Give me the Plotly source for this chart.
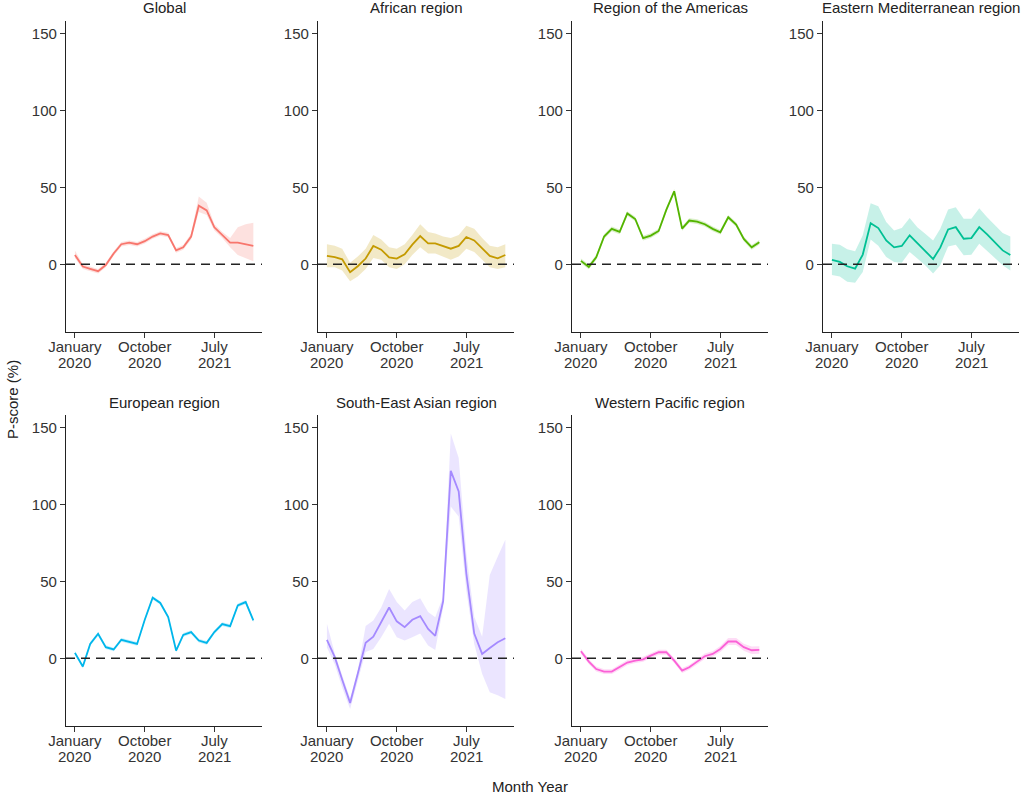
import pandas as pd
import plotly.graph_objects as go

months = [d.strftime("%Y-%m-01") for d in pd.date_range("2020-01-01", "2021-12-01", freq="MS")]

regions = ["Global", "African region", "Region of the Americas", "Eastern Mediterranean region",
           "European region", "South-East Asian region", "Western Pacific region"]
colors = ["#F8766D", "#C49A00", "#53B400", "#00C094", "#00B6EB", "#A58AFF", "#FB61D7"]

global_val = [6, -1.5, -3, -4.5, -0.5, 7, 13, 14, 13, 15, 18, 20, 19, 9, 11, 18, 38, 35, 24, 19, 14, 14, 13, 12]
global_lo = [4, -3, -4.5, -6, -2, 5.5, 11.5, 12.5, 11.5, 13.5, 16.5, 18.5, 17.5, 7.5, 9.5, 16, 34, 32, 22, 17, 11, 6, 4, 2]
global_hi = [9, 0, -1.5, -3, 1, 8.5, 14.5, 15.5, 14.5, 16.5, 19.5, 21.5, 20.5, 10.5, 12.5, 20, 44, 40, 26, 21, 17, 24, 26, 27]

af_val = [5.4, 4.7, 3.2, -5.2, -1.3, 3.7, 11.9, 9.5, 4.5, 3.7, 6.5, 12.7, 18.3, 13.6, 13.6, 11.6, 10.1, 11.9, 17.7, 15.5, 10.1, 5.4, 3.9, 6.0]
af_lo = [-2, -2, -4, -11, -8, -3, 4, 3, -2, -3, 0, 6, 11, 7, 7, 5, 3, 5, 10, 8, 3, -2, -3, -2]
af_hi = [13, 12, 10, 1, 5, 10, 19, 16, 11, 10, 13, 19, 26, 21, 20, 18, 17, 19, 25, 23, 17, 12, 11, 13]

am_val = [2.2, -1.7, 4.5, 18, 23, 21, 33, 29.4, 17, 18.6, 21.6, 35.3, 47.4, 23.2, 28.4, 27.7, 26, 23, 20.8, 30.5, 25.8, 16.5, 11, 14.3]
am_lo = [0.7, -3.2, 3, 16.5, 21.5, 19.5, 31.5, 27.9, 15.5, 17.1, 20.1, 33.8, 45.9, 21.7, 26.9, 26.2, 24.5, 21.5, 19.3, 29, 24.3, 15, 9.5, 12.8]
am_hi = [3.7, -0.2, 6, 19.5, 24.5, 22.5, 34.5, 30.9, 18.5, 20.1, 23.1, 36.8, 48.9, 24.7, 29.9, 29.2, 27.5, 24.5, 22.3, 32, 27.3, 18, 12.5, 15.8]

em_val = [2.8, 1.5, -1.3, -2.8, 6.3, 26.7, 23.5, 15.5, 11, 11.9, 18.8, 14, 8.6, 3.4, 10.8, 22.6, 24.1, 16.6, 17, 24.1, 19.4, 14, 9, 6]
em_lo = [-7, -8, -11.4, -12, -5, 16, 12, 4.7, 1.5, 1, 8, 3.7, -0.6, -6, -0.6, 11.6, 12.7, 5.8, 6.2, 13.4, 9, 4, -0.6, -4]
em_hi = [13.4, 12.7, 9.7, 8.4, 18.8, 39.7, 37.7, 27.4, 22, 23.5, 30, 24, 19.8, 15.5, 23, 35.6, 37, 29.5, 29.5, 36.4, 30.6, 25.2, 20.3, 18]

eu_val = [3.5, -5.4, 9.3, 15.9, 7.2, 5.7, 12, 10.9, 9.3, 25, 39.3, 35.9, 26.7, 5, 15.2, 17, 11.5, 10, 17, 22.2, 20.9, 34.3, 36.5, 24.6]
eu_lo = [2.3, -6.6, 8.1, 14.7, 6, 4.5, 10.8, 9.7, 8.1, 23.8, 38.1, 34.7, 25.5, 3.8, 14, 15.8, 10.3, 8.8, 15.8, 21, 19.7, 33.1, 35.3, 23.4]
eu_hi = [4.7, -4.2, 10.5, 17.1, 8.4, 6.9, 13.2, 12.1, 10.5, 26.2, 40.5, 37.1, 27.9, 6.2, 16.4, 18.2, 12.7, 11.2, 18.2, 23.4, 22.1, 35.5, 37.7, 25.8]

sea_val = [12, 0.7, -14, -29, -10, 10, 14, 23.5, 33, 24, 20.2, 25, 27.4, 19, 14.6, 37, 121.7, 108.3, 55, 16, 2.8, 6.7, 10.4, 13]
sea_lo = [7, -4, -19, -33, -14.6, 4, 6, 13.7, 22.4, 13.7, 11.5, 13.7, 16, 8.3, 5.4, 33, 98.5, 92, 44, 9.3, -10, -22, -24, -26.5]
sea_hi = [22.4, 3, -11, -26, -8, 21, 24.6, 33, 45, 36.5, 31, 36.5, 39, 30, 26.7, 40, 146, 130, 68, 27, 14, 54, 66, 77]

wp_val = [4.6, -2.2, -7, -8.7, -8.7, -5.9, -2.8, -1.5, -0.7, 1.7, 3.9, 3.9, -1.5, -8, -5.9, -2.2, 1.3, 2.8, 6, 10.9, 10.9, 7.2, 5.2, 5.4]
wp_lo = [3, -3.8, -8.6, -10.3, -10.3, -7.5, -4.4, -3.1, -2.3, 0.1, 2.3, 2.3, -3.1, -9.6, -7.5, -3.8, -0.5, 1, 4, 8.6, 8.6, 4.9, 2.8, 3]
wp_hi = [6.2, -0.6, -5.4, -7.1, -7.1, -4.3, -1.2, 0.1, 0.9, 3.3, 5.5, 5.5, 0.1, -6.4, -4.3, -0.6, 3.1, 4.6, 8, 13.2, 13.2, 9.5, 7.6, 7.8]

values = [global_val, af_val, am_val, em_val, eu_val, sea_val, wp_val]
lows = [global_lo, af_lo, am_lo, em_lo, eu_lo, sea_lo, wp_lo]
highs = [global_hi, af_hi, am_hi, em_hi, eu_hi, sea_hi, wp_hi]

x_tickvals = ["2020-01-01", "2020-10-01", "2021-07-01"]
x_tick_month = ["January", "October", "July"]
x_tick_year = ["2020", "2020", "2021"]
y_tickvals = [0, 50, 100, 150]

W, H = 1024, 794
col_left = [66, 318, 572, 823]
panel_w = 196
row_top = [21, 415]
panel_h = 311

def hex_rgba(h, a):
    h = h.lstrip("#")
    return "rgba(%d,%d,%d,%.2f)" % (int(h[0:2], 16), int(h[2:4], 16), int(h[4:6], 16), a)

FONT = "Liberation Sans, Arial, Helvetica, sans-serif"
FS = 15
fig = go.Figure()
shapes = []
annotations = []
layout = {}

for k in range(7):
    r, c = divmod(k, 4)
    ax = "" if k == 0 else str(k + 1)
    xr, yr = "x" + ax, "y" + ax
    x0 = col_left[c] / W
    x1 = (col_left[c] + panel_w) / W
    y1 = 1 - row_top[r] / H
    y0 = 1 - (row_top[r] + panel_h) / H
    col = colors[k]
    fig.add_trace(go.Scatter(
        x=months + months[::-1], y=highs[k] + lows[k][::-1],
        fill="toself", fillcolor=hex_rgba(col, 0.22), line=dict(width=0),
        hoverinfo="skip", showlegend=False, xaxis=xr, yaxis=yr))
    fig.add_trace(go.Scatter(
        x=months, y=values[k], mode="lines", line=dict(color=col, width=1.8),
        showlegend=False, xaxis=xr, yaxis=yr))
    layout["xaxis" + ax] = dict(
        domain=[x0, x1], anchor=yr, type="date", automargin=False,
        range=["2019-11-27", "2022-01-04"],
        tickmode="array", tickvals=x_tickvals, ticktext=x_tick_month,
        ticks="outside", ticklen=5, tickwidth=1.2, tickcolor="#333",
        ticklabelstandoff=-4,
        showline=True, linecolor="#222", linewidth=1.3, showgrid=False, zeroline=False,
        tickfont=dict(family=FONT, size=FS, color="#333"))
    layout["yaxis" + ax] = dict(
        domain=[y0, y1], anchor=xr, range=[-44, 158], automargin=False,
        tickmode="array", tickvals=y_tickvals,
        ticks="outside", ticklen=5, tickwidth=1.2, tickcolor="#333",
        showline=True, linecolor="#222", linewidth=1.3, showgrid=False, zeroline=False,
        tickfont=dict(family=FONT, size=FS, color="#333"))
    shapes.append(dict(type="line", xref=xr + " domain", yref=yr, x0=0, x1=1, y0=0, y1=0,
                       line=dict(color="#222", width=1.5, dash="9px,6px"), layer="above"))
    annotations.append(dict(text=regions[k], x=(x0 + x1) / 2, y=1 - (row_top[r] - 13) / H,
                            xref="paper", yref="paper", showarrow=False,
                            xanchor="center", yanchor="middle",
                            font=dict(family=FONT, size=FS, color="#222")))
    year_y = 1 - (row_top[r] + panel_h + 30) / H
    for tv, yt in zip(x_tickvals, x_tick_year):
        annotations.append(dict(text=yt, x=tv, y=year_y, xref=xr, yref="paper",
                                showarrow=False, xanchor="center", yanchor="middle",
                                font=dict(family=FONT, size=FS, color="#333")))

annotations.append(dict(text="P-score (%)", x=12 / W, y=1 - 400 / H, xref="paper", yref="paper",
                        showarrow=False, textangle=-90, xanchor="center", yanchor="middle",
                        font=dict(family=FONT, size=FS, color="#222")))
annotations.append(dict(text="Month Year", x=530 / W, y=1 - 786 / H, xref="paper", yref="paper",
                        showarrow=False, xanchor="center", yanchor="middle",
                        font=dict(family=FONT, size=FS, color="#222")))

fig.update_layout(width=W, height=H, margin=dict(l=0, r=0, t=0, b=0, autoexpand=False),
                  plot_bgcolor="white", paper_bgcolor="white",
                  shapes=shapes, annotations=annotations, **layout)
fig.write_html("out.html", config={"displayModeBar": False},
               post_script="document.body.style.margin='0';document.body.style.overflow='hidden';")
